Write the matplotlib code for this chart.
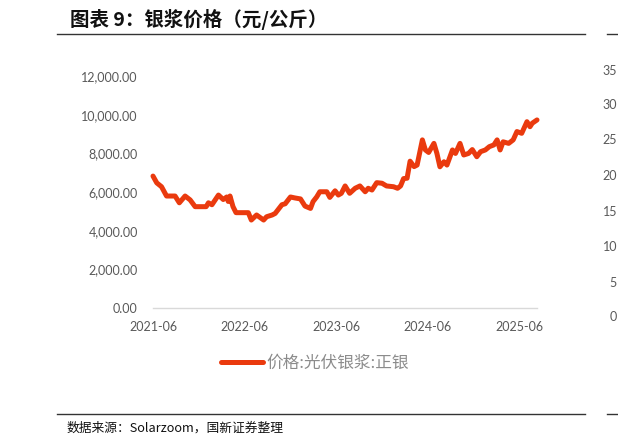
import matplotlib
matplotlib.use("Agg")
import matplotlib.pyplot as plt
import matplotlib.dates as mdates
from matplotlib.ticker import FuncFormatter
from matplotlib.lines import Line2D
import pandas as pd

plt.rcParams['font.family'] = ['Noto Sans CJK SC', 'DejaVu Sans']

dates = [
    "2021-06-01", "2021-06-16", "2021-07-05", "2021-07-25", "2021-08-28", "2021-09-14",
    "2021-10-07", "2021-10-27", "2021-11-16", "2021-12-30", "2022-01-08", "2022-01-22",
    "2022-02-17", "2022-03-08", "2022-03-22", "2022-03-28", "2022-04-04", "2022-04-16",
    "2022-04-28", "2022-06-16", "2022-06-28", "2022-07-19", "2022-08-16", "2022-08-28",
    "2022-09-19", "2022-10-01", "2022-10-13", "2022-10-28", "2022-11-10", "2022-12-01",
    "2022-12-19", "2023-01-10", "2023-01-28", "2023-02-19", "2023-03-01", "2023-03-16",
    "2023-03-28", "2023-04-25", "2023-05-07", "2023-05-28", "2023-06-10", "2023-06-22",
    "2023-07-07", "2023-07-25", "2023-08-16", "2023-09-04", "2023-09-25", "2023-10-07",
    "2023-10-22", "2023-11-10", "2023-12-01", "2023-12-19", "2024-01-16", "2024-02-01",
    "2024-02-13", "2024-02-25", "2024-03-10", "2024-03-22", "2024-04-07", "2024-04-19",
    "2024-05-10", "2024-05-22", "2024-06-04", "2024-06-25", "2024-07-07", "2024-07-19",
    "2024-08-04", "2024-08-16", "2024-09-07", "2024-09-19", "2024-10-07", "2024-10-22",
    "2024-11-10", "2024-11-25", "2024-12-13", "2024-12-28", "2025-01-16", "2025-02-01",
    "2025-02-19", "2025-03-04", "2025-03-16", "2025-03-28", "2025-04-19", "2025-05-07",
    "2025-05-22", "2025-06-10", "2025-07-01", "2025-07-13", "2025-07-22", "2025-08-10",
]
prices = [
    6830, 6480, 6280, 5800, 5800, 5450,
    5800, 5600, 5250, 5250, 5450, 5350,
    5850, 5620, 5750, 5520, 5800, 5250,
    4940, 4940, 4560, 4820, 4560, 4730,
    4820, 4900, 5100, 5350, 5400, 5750,
    5700, 5650, 5280, 5160, 5510, 5760,
    6020, 6020, 5730, 6070, 5850, 5940,
    6320, 5940, 6200, 6320, 6020, 6200,
    6110, 6490, 6460, 6320, 6280, 6200,
    6320, 6700, 6720, 7600, 7320, 7400,
    8700, 8180, 8050, 8520, 8000, 7310,
    7570, 7400, 8180, 8000, 8520, 7920,
    8000, 8200, 7830, 8090, 8180, 8350,
    8440, 8700, 8180, 8600, 8520, 8700,
    9130, 9040, 9640, 9380, 9560, 9730,
]
x_ticks = ["2021-06-01", "2022-06-01", "2023-06-01", "2024-06-01", "2025-06-01"]
y_ticks = [0, 2000, 4000, 6000, 8000, 10000, 12000]
series_name = "价格:光伏银浆:正银"
title = "图表 9：银浆价格（元/公斤）"
source = "数据来源：Solarzoom，国新证券整理"
neighbor_ticks = ["35", "30", "25", "20", "15", "10", "5", "0"]

W, H = 618, 448
fig = plt.figure(figsize=(W / 100, H / 100), dpi=100)

def fx(px):
    return px / W

def fy(py):
    return 1 - py / H

left, right, top, bottom = 153, 537, 76, 308.3
ax = fig.add_axes([fx(left), fy(bottom), fx(right) - fx(left), fy(top) - fy(bottom)])

d = pd.to_datetime(dates)
color = "#EA3A0E"
ax.plot(d, prices, color=color, lw=3.6, solid_joinstyle="round", solid_capstyle="round",
        clip_on=False, zorder=3)

ax.set_xlim(d[0], d[-1])
ax.set_ylim(0, 12000)
ax.set_yticks(y_ticks)
ax.yaxis.set_major_formatter(FuncFormatter(lambda v, p: f"{v:,.2f}"))
ax.set_xticks(pd.to_datetime(x_ticks))
ax.xaxis.set_major_formatter(mdates.DateFormatter("%Y-%m"))
tick_color = "#595959"
ax.tick_params(axis="both", length=0, labelsize=9, colors=tick_color)
ax.tick_params(axis="y", pad=11)
ax.tick_params(axis="x", pad=9)
for lab in ax.get_xticklabels() + ax.get_yticklabels():
    lab.set_family(["Lato", "DejaVu Sans"])

for s in ["top", "right", "left"]:
    ax.spines[s].set_visible(False)
ax.spines["bottom"].set_color("#D9D9D9")
ax.spines["bottom"].set_linewidth(1.0)

handle = Line2D([], [], color=color, lw=3.6, solid_capstyle="round")
fig.legend([handle], [series_name], loc="center", bbox_to_anchor=(fx(315), fy(363)),
           frameon=False, handlelength=2.5, handletextpad=0.25,
           prop={"size": 12, "family": ["Noto Sans CJK SC", "DejaVu Sans"]},
           labelcolor="#8C8C8C")

fig.text(fx(70), fy(19), title, fontsize=14, fontweight="bold", va="center", ha="left",
         color="#111111")
fig.text(fx(67), fy(428), source, fontsize=9.2, va="center", ha="left", color="#111111")

for yy in (34.3, 414.3):
    fig.add_artist(Line2D([fx(57), fx(585)], [fy(yy), fy(yy)], color="#333333", lw=1.0))
    fig.add_artist(Line2D([fx(607), fx(618)], [fy(yy), fy(yy)], color="#333333", lw=1.0))

neighbor_y = [70.7, 105, 140, 176, 212, 247, 283, 317]
for lab, yy in zip(neighbor_ticks, neighbor_y):
    fig.text(fx(617), fy(yy), lab, fontsize=9, ha="right", va="center", color=tick_color,
             family=["Lato", "DejaVu Sans"])

fig.savefig("out.png", dpi=100)
